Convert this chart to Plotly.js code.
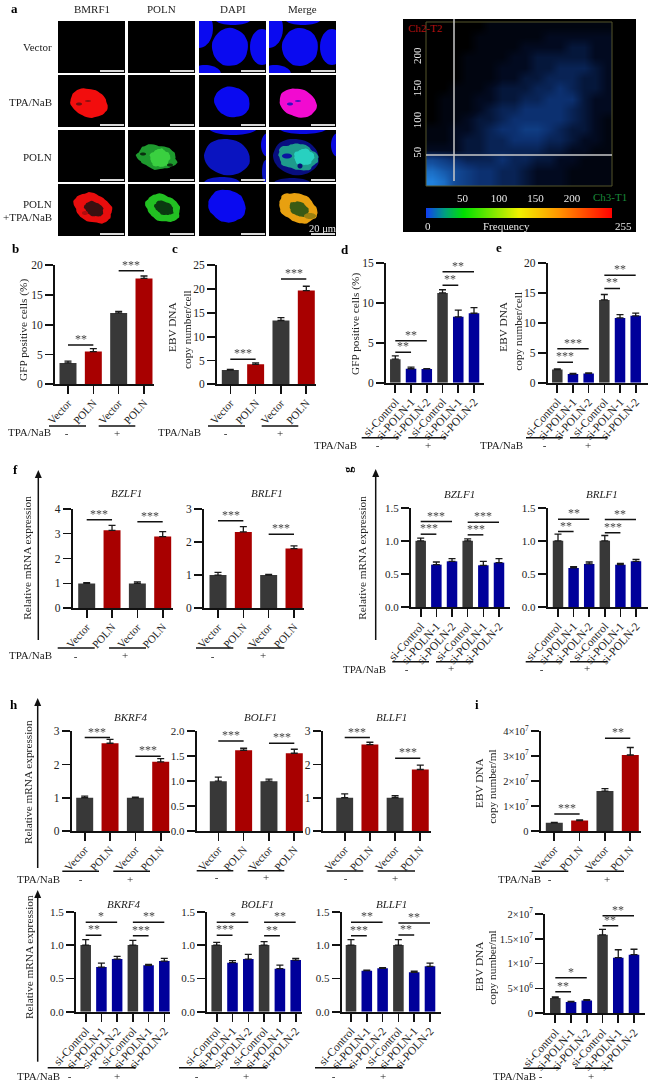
<!DOCTYPE html>
<html><head><meta charset="utf-8">
<script src="https://cdn.plot.ly/plotly-3.0.1.min.js"></script>
<style>html,body{margin:0;padding:0;background:#fff}#c{width:650px;height:1082px}
.xtick text,.ytick text,.annotation text:not([data-unformatted^="Ch"]){filter:grayscale(1)}</style>
</head><body><div id="c"></div>
<script>
// ---------- DATA ----------
const vecLabels=['Vector','POLN','Vector','POLN'];
const siLabels=['si-Control','si-POLN-1','si-POLN-2','si-Control','si-POLN-1','si-POLN-2'];
const colVec=['#383838','#a80000','#383838','#a80000'];
const colSi=['#383838','#00009a','#00009a','#383838','#00009a','#00009a'];

const bVals=[3.6,5.5,12,17.8],bErr=[.3,.5,.25,.4],bSig=[[0,1,6.6,'**'],[2,3,19.1,'***']];
const cVals=[3.0,4.2,13.4,19.7],cErr=[.15,.3,.6,.9],cSig=[[0,1,5.25,'***'],[2,3,22.1,'***']];
const dVals=[2.95,1.75,1.72,11.25,8.25,8.7],dErr=[.4,.2,.05,.4,.85,.7],dSig=[[0,1,3.81,'**'],[0,2,5.26,'**'],[3,4,12.2,'**'],[3,5,13.9,'**']];
const eVals=[2.2,1.45,1.55,13.8,10.8,11.15],eErr=[.1,.08,.1,.9,.55,.45],eSig=[[0,1,3.4,'***'],[0,2,5.67,'***'],[3,4,15.7,'**'],[3,5,17.9,'**']];
const fZVals=[1,3.13,1,2.88],fZErr=[.03,.2,.06,.2],fZSig=[[0,1,3.56,'***'],[2,3,3.48,'***']];
const fRVals=[1,2.3,1,1.8],fRErr=[.08,.16,.02,.08],fRSig=[[0,1,2.64,'***'],[2,3,2.23,'***']];
const gZVals=[1,.64,.69,1,.63,.67],gZErr=[.04,.04,.04,.03,.06,.06],gZSig=[[0,1,1.10,'***'],[0,2,1.29,'***'],[3,4,1.09,'***'],[3,5,1.28,'***']];
const gRVals=[1,.59,.65,1,.64,.69],gRErr=[.1,.02,.03,.08,.02,.03],gRSig=[[0,1,1.14,'**'],[0,2,1.325,'**'],[3,4,1.12,'***'],[3,5,1.32,'**']];
const hKVals=[1,2.64,1,2.08],hKErr=[.05,.12,.02,.1],hKSig=[[0,1,2.81,'***'],[2,3,2.25,'***']];
const hOVals=[1,1.62,1,1.56],hOErr=[.08,.04,.04,.08],hOSig=[[0,1,1.805,'***'],[2,3,1.76,'***']];
const hLVals=[1,2.6,1,1.85],hLErr=[.12,.07,.06,.13],hLSig=[[0,1,2.81,'***'],[2,3,2.19,'***']];
const h2KVals=[1,.67,.79,1,.695,.76],h2KErr=[.08,.06,.04,.07,.015,.04],h2KSig=[[0,1,1.145,'**'],[0,2,1.34,'*'],[3,4,1.14,'***'],[3,5,1.34,'**']];
const h2OVals=[1,.735,.79,1,.645,.775],h2OErr=[.04,.03,.07,.05,.055,.025],h2OSig=[[0,1,1.145,'***'],[0,2,1.34,'*'],[3,4,1.14,'**'],[3,5,1.34,'**']];
const h2LVals=[1,.615,.65,1,.59,.68],h2LErr=[.08,.01,.01,.08,.02,.05],h2LSig=[[0,1,1.14,'***'],[0,2,1.34,'**'],[3,4,1.15,'**'],[3,5,1.33,'**']];
const iVals=[3.3e6,4.2e6,1.6e7,3.05e7],iErr=[2e5,3e5,1e6,3e6],iSig=[[0,1,6.8e6,'***'],[2,3,3.72e7,'**']];
const i2Vals=[3.1e6,2.3e6,2.6e6,1.58e7,1.12e7,1.18e7],i2Err=[2e5,1e5,1.5e5,1.1e6,1.6e6,1.1e6],i2Sig=[[0,1,4.35e6,'**'],[0,2,7.17e6,'*'],[3,4,1.764e7,'**'],[3,5,1.966e7,'**']];

// colocalisation density, estimated by eye on a coarse grid (rows bottom to top)
const densX=[8,24,40,56,72,88,104,120,136,152,168,184,200,216,232,248];
const densY=[8,24,40,56,72,88,104,120,136,152,168,184,200,216,232,248];
const dens=[
[10,9,7,6,5,5,4,4,3,2,2,2,1,1,1,1],
[9,8,7,6,5,5,4,4,3,2,2,2,1,1,1,1],
[7,6,5,4,4,4,5,4,4,3,3,2,2,1,1,1],
[2,2,2,3,3,4,4,4,4,4,3,3,2,2,1,1],
[1,1,2,3,3,4,4,5,5,5,4,4,3,2,2,1],
[1,1,2,2,3,4,5,5,6,6,5,4,3,3,2,1],
[0,1,1,2,3,3,4,5,5,5,5,5,4,3,2,1],
[0,1,1,1,2,3,4,4,5,5,5,5,4,3,2,2],
[0,1,1,1,2,2,3,3,4,4,5,5,5,3,2,2],
[0,0,1,1,1,2,3,3,3,4,4,5,4,3,3,2],
[0,0,0,1,1,1,2,2,3,3,4,4,4,3,3,2],
[0,0,0,1,1,1,2,2,2,3,3,4,4,4,3,2],
[0,0,0,1,1,1,1,2,2,3,3,3,3,3,2,2],
[0,0,0,0,1,1,1,1,2,2,2,2,3,3,2,2],
[0,0,0,0,1,1,1,1,1,1,2,2,2,2,2,2],
[0,0,0,0,0,1,1,1,1,1,1,1,1,1,1,1]];
const freqScale=[0,32,64,96,128,160,192,224,255];

// ---------- HELPERS ----------
const W=650,H=1082,FONT='"Liberation Serif","Times New Roman",serif',INK='#222';
const px=x=>x/W,py=y=>1-y/H;
const data=[],shapes=[],annotations=[],layout={};
let axN=0,clip=[0,0,W,H];
function newAxes(){axN++;const s=axN>1?axN:'';return{xk:'xaxis'+s,yk:'yaxis'+s,x:'x'+s,y:'y'+s};}
function text(x,y,t,o={}){annotations.push({xref:'paper',yref:'paper',x:px(x),y:py(y),text:t,showarrow:false,
  xanchor:o.anchor||'center',yanchor:'middle',textangle:o.angle||0,borderpad:0,
  font:{family:FONT,size:o.size||11,color:o.color||INK}});}
function line(x0,y0,x1,y1,c,w){shapes.push({type:'line',xref:'paper',yref:'paper',x0:px(x0),y0:py(y0),x1:px(x1),y1:py(y1),line:{color:c||'#111',width:w||1.5}});}
function rect(x0,y0,x1,y1,c,layer){shapes.push({type:'rect',xref:'paper',yref:'paper',x0:px(x0),y0:py(y0),x1:px(x1),y1:py(y1),fillcolor:c,line:{width:0},layer:layer||'below'});}
function ell(cx,cy,rx,ry,rot,c,w){const n=48,r=(rot||0)*Math.PI/180,b=w||0;let p='';
  for(let k=0;k<n;k++){const a=k/n*2*Math.PI,m=1+b*(Math.sin(5*a+cx)+.6*Math.sin(9*a+cy)+.4*Math.sin(17*a));
    const u=rx*m*Math.cos(a),v=ry*m*Math.sin(a);
    let X=cx+u*Math.cos(r)-v*Math.sin(r),Y=cy+u*Math.sin(r)+v*Math.cos(r);
    X=Math.min(clip[2],Math.max(clip[0],X));Y=Math.min(clip[3],Math.max(clip[1],Y));
    p+=(k?'L':'M')+px(X).toFixed(5)+','+py(Y).toFixed(5);}
  shapes.push({type:'path',xref:'paper',yref:'paper',path:p+'Z',fillcolor:c,line:{width:0},layer:'below'});}
function arrow(x,top,bottom){line(x,top+6,x,bottom,'#111',1.5);
  const p=`M${px(x)},${py(top)}L${px(x-3.5)},${py(top+8)}L${px(x+3.5)},${py(top+8)}Z`;
  shapes.push({type:'path',xref:'paper',yref:'paper',path:p,fillcolor:'#111',line:{width:0}});}

function panel(o){
  const a=newAxes(),n=o.vals.length,c0=o.centers[0],sp=(o.centers[n-1]-c0)/(n-1),zero=o.vals.map(()=>0);
  data.push({type:'bar',x:o.vals.map((_,i)=>i),y:o.vals,xaxis:a.x,yaxis:a.y,marker:{color:o.colors,line:{width:0}},hoverinfo:'skip',
    error_y:{type:'data',symmetric:false,array:o.err,arrayminus:zero,color:'#1a1a1a',thickness:1.3,width:3.5}});
  const base={showgrid:false,zeroline:false,showline:true,linecolor:'#111',linewidth:2,ticks:'outside',ticklen:8,tickwidth:1.6,tickcolor:'#111'};
  layout[a.xk]=Object.assign({},base,{anchor:a.y,domain:[px(o.l),px(o.r)],range:[(o.l-c0)/sp,(o.r-c0)/sp],
    tickmode:'array',tickvals:o.vals.map((_,i)=>i),ticktext:o.labels,tickangle:-48,ticklabelstandoff:-2,
    tickfont:{family:FONT,size:n==6?11.5:11,color:INK}});
  layout[a.yk]=Object.assign({},base,{anchor:a.x,domain:[py(o.y0),py(o.yt)],range:[0,o.max],
    tickmode:'array',tickvals:o.ticks,ticktext:o.tickText||o.ticks.map(String),tickfont:{family:FONT,size:o.ySize||(o.tickText?11:11.5),color:INK}});
  o.sig.forEach(s=>{
    shapes.push({type:'line',xref:a.x,yref:a.y,x0:s[0],x1:s[1],y0:s[2],y1:s[2],line:{color:'#111',width:1.5}});
    annotations.push({xref:a.x,yref:a.y,x:(s[0]+s[1])/2,y:s[2],text:s[3],showarrow:false,xanchor:'center',yanchor:'bottom',yshift:-2,borderpad:0,
      font:{family:FONT,size:12,color:'#444'}});
  });
  if(o.title)text(o.title[0],o.title[1],'<i>'+o.title[2]+'</i>',{size:11});
  (o.under||[]).forEach(u=>line(u[0],o.underY,u[1],o.underY,'#111',1.4));
  if(o.minus)text(o.minus[0],o.minus[1],'\u00a0-\u00a0');
  if(o.plus)text(o.plus[0],o.plus[1],'+');
  if(o.tpa)text(o.tpa[0],o.tpa[1],'TPA/NaB',{anchor:'right'});
}
const f=(a,b)=>a+'×10<sup>'+b+'</sup>';
const yt=(t,x,y)=>text(x,y,t,{angle:-90,size:11.3});

// ---------- PANEL a : images ----------
const cols=[[58,125],[128,195],[199,266],[269,336]],rows=[[21,73],[75,127],[130,182],[184,236]];
cols.forEach(c=>rows.forEach(r=>rect(c[0],r[0],c[1],r[1],'#000')));
function cell(ci,ri){clip=[cols[ci][0],rows[ri][0],cols[ci][1],rows[ri][1]];}
// row 1
[[2,0],[3,70]].forEach(o=>{cell(o[0],0);const d=o[1],c='#0a0af0';
  ell(230+d,47,18,19,0,c,.01);ell(199+d,28,14,20,0,c);ell(262+d,47,12,18,0,c);ell(233+d,19,18,6,0,c);ell(205+d,74,16,9,0,c);});
// row 2
cell(0,1);ell(89,103,19,14,18,'#f20d0d',.02);ell(79,104,3,1.5,0,'#701010');ell(88,101,3,1,0,'#901010');
cell(2,1);ell(232,102,18,15,18,'#0a0af0',.012);
cell(3,1);ell(298,103,19,14,18,'#f20ad0',.015);ell(290,104,3,1.5,0,'#3010c0');ell(298,101,3,1,0,'#5010c0');
// row 3
cell(1,2);ell(157,157,20,12,10,'#1e9a2e',.05);ell(160,158,10,9,0,'#3ad040',.06);ell(143,154,3,1.5,0,'#0a300f');ell(170,165,3,1.5,0,'#0a300f');
cell(2,2);{const c='#0a14c0';ell(227,157,23,18,10,c,.01);ell(233,128,24,7,0,'#0a0ae0');ell(268,145,7,12,0,'#0a0ae0');ell(266,172,4,12,0,c);ell(222,183,18,6,0,c);}
cell(3,2);{const c='#080e80';ell(296,157,23,18,10,c,.01);ell(303,128,24,6,0,'#0a0ae0');ell(338,145,7,12,0,'#0a0ae0');ell(292,183,18,5,0,c);}
ell(298,157,20,13,10,'#1e9a8c',.05);ell(304,157,10,8,0,'#28d0c0',.06);ell(287,156,5,2.5,0,'#0a14a0');ell(300,166,2.5,2.5,0,'#08107a');
// row 4
cell(0,3);ell(93,208,20,14,25,'#e80d0d',.035);ell(94,209,10,7,25,'#3a1010',.05);ell(85,213,3,2,0,'#b00d0d');
cell(1,3);ell(163,208,18,13,25,'#22c022',.035);ell(164,208,10,6.5,25,'#0a3a10',.05);
cell(2,3);ell(227,206,19,16,20,'#0a0af0',.02);
cell(3,3);ell(298,208,20,14,25,'#e8a010',.035);ell(299,209,10,7,25,'#3a5a14',.05);ell(310,216,6,3,0,'#9a8010');
cols.forEach(c=>rows.forEach(r=>rect(c[1]-25,r[1]-3,c[1]-1,r[1]-1,'#d8d8d8')));
text(14,9,'<b>a</b>',{size:13,color:'#000'});
[['BMRF1',92],['POLN',161],['DAPI',233],['Merge',302]].forEach(t=>text(t[1],9,t[0],{size:11}));
text(53,47,'Vector',{anchor:'right'});text(53,102,'TPA/NaB',{anchor:'right'});text(53,157,'POLN',{anchor:'right'});
text(53,204,'POLN',{anchor:'right'});text(53,217,'+TPA/NaB',{anchor:'right'});
text(337,228,'20 μm',{anchor:'right',color:'#e8e8e8',size:10.5});

// ---------- PANEL a : colocalisation scatter ----------
rect(403,19,636,232,'#000');
{const a=newAxes();
 data.push({type:'heatmap',x:densX,y:densY,z:dens,xaxis:a.x,yaxis:a.y,zmin:0,zmax:10,zsmooth:'best',showscale:false,hoverinfo:'skip',
  colorscale:[[0,'#000000'],[.2,'#020a20'],[.5,'#0c3070'],[.75,'#14509f'],[1,'#2080dc']]});
 layout[a.xk]={anchor:a.y,domain:[px(426),px(612)],range:[0,255],showgrid:false,zeroline:false,tickmode:'array',tickvals:[50,100,150,200],ticks:'',
  tickfont:{family:FONT,size:11,color:'#e8e8e8'},ticklabelstandoff:4};
 layout[a.yk]={anchor:a.x,domain:[py(186),py(22)],range:[0,255],showgrid:false,zeroline:false,tickmode:'array',tickvals:[50,100,150,200],ticks:'',tickangle:-90,
  tickfont:{family:FONT,size:11,color:'#e8e8e8'},ticklabelstandoff:2};
}
{const a=newAxes();
 data.push({type:'heatmap',x:freqScale,y:[0,1],z:[freqScale,freqScale],xaxis:a.x,yaxis:a.y,zmin:0,zmax:255,zsmooth:'best',showscale:false,hoverinfo:'skip',
  colorscale:[[0,'#1040f0'],[.1,'#00a080'],[.2,'#00e000'],[.5,'#f0f000'],[.72,'#ff9000'],[1,'#ff0000']]});
 layout[a.xk]={anchor:a.y,domain:[px(426),px(612)],range:[0,255],visible:false};
 layout[a.yk]={anchor:a.x,domain:[py(218),py(208)],range:[0,1],visible:false};
}
shapes.push({type:'rect',xref:'paper',yref:'paper',x0:px(426),y0:py(186),x1:px(612),y1:py(22),line:{color:'#55552a',width:1}});
line(454,19,454,181,'#c8c8c8',1.5);line(426,155,612,155,'#c8c8c8',1.5);
text(425,28,'Ch2-T2',{size:11,color:'#b01010'});text(610,197,'Ch3-T1',{size:11,color:'#1a8a3a'});
text(428,226,'0',{color:'#e8e8e8'});text(506,226,'Frequency',{color:'#e8e8e8'});text(623,226,'255',{color:'#e8e8e8'});

// ---------- BAR PANELS ----------
text(15,248,'<b>b</b>',{size:13,color:'#000'});
panel({vals:bVals,err:bErr,sig:bSig,colors:colVec,labels:vecLabels,l:55,r:154,centers:[68,93.3,118.7,144],y0:384.3,yt:265.3,max:20,ticks:[0,5,10,15,20],
 under:[[49,86],[98.7,135.3]],underY:426,minus:[66.7,433],plus:[117,432.5],tpa:[52,432]});
yt('GFP positive cells (%)',23,330);

text(175,248,'<b>c</b>',{size:13,color:'#000'});
panel({vals:cVals,err:cErr,sig:cSig,colors:colVec,labels:vecLabels,l:217,r:316,centers:[230.3,255.7,281,306.3],y0:384.3,yt:265.3,max:25,ticks:[0,5,10,15,20,25],
 under:[[208,245],[261.7,298.3]],underY:426,minus:[225,433],plus:[280,432.5],tpa:[202,432]});
yt('EBV DNA',172,327);yt('copy number/cell',187,330);

text(345,249,'<b>d</b>',{size:13,color:'#000'});
panel({vals:dVals,err:dErr,sig:dSig,colors:colSi,labels:siLabels,l:386,r:484,centers:[395.3,411,426.7,442.3,458,474],y0:382.7,yt:263,max:15,ticks:[0,5,10,15],
 under:[[361.7,398.3],[408.3,445.7]],underY:437.7,minus:[377.7,445],plus:[427.7,444.7],tpa:[358,445]});
yt('GFP positive cells (%)',355,324);

text(499,247,'<b>e</b>',{size:13,color:'#000'});
panel({vals:eVals,err:eErr,sig:eSig,colors:colSi,labels:siLabels,l:547.7,r:647.7,centers:[557.3,573,588.7,604.3,620,635.7],y0:382.7,yt:262.7,max:20,ticks:[0,5,10,15,20],
 under:[[526,562.7],[570,607.3]],underY:437.7,minus:[544,445],plus:[588.3,444.7],tpa:[524.3,445]});
yt('EBV DNA',502.7,326);yt('copy number/cell',517.7,331);

text(15,469,'<b>f</b>',{size:13,color:'#000'});
arrow(38.3,470,640);yt('Relative mRNA expression',26.7,558);
panel({vals:fZVals,err:fZErr,sig:fZSig,colors:colVec,labels:vecLabels,l:72.7,r:173,centers:[86.7,112,137.3,162.7],y0:608.3,yt:508.7,max:4,ticks:[0,1,2,3,4],title:[126.7,493,'BZLF1'],
 under:[[57.7,94.7],[109,146]],underY:648,minus:[75,656],plus:[125,655],tpa:[52.7,655]});
panel({vals:fRVals,err:fRErr,sig:fRSig,colors:colVec,labels:vecLabels,l:204,r:304,centers:[218,243.7,268.7,294],y0:608.3,yt:508.7,max:3,ticks:[0,1,2,3],title:[267,493,'BRLF1'],
 under:[[196,233.3],[247.3,284.3]],underY:648,minus:[212.7,656],plus:[262.7,655]});

annotations.push({xref:'paper',yref:'paper',x:px(347.7),y:py(470),text:'<b>g</b>',showarrow:false,textangle:-90,font:{family:FONT,size:12,color:'#000'}});
arrow(375.7,469,640);yt('Relative mRNA expression',361.7,558);
panel({vals:gZVals,err:gZErr,sig:gZSig,colors:colSi,labels:siLabels,l:411,r:510,centers:[420.7,436.3,451.7,467.7,483.3,499],y0:607,yt:507.7,max:1.5,ticks:[0,.5,1,1.5],tickText:['0.0','0.5','1.0','1.5'],title:[459,494,'BZLF1'],
 under:[[392.3,429],[436,473.3]],underY:661.7,minus:[406,669],plus:[450.7,668],tpa:[387.3,669]});
panel({vals:gRVals,err:gRErr,sig:gRSig,colors:colSi,labels:siLabels,l:547.7,r:647.7,centers:[558,573.3,589,604.7,620.3,636],y0:607,yt:507.7,max:1.5,ticks:[0,.5,1,1.5],tickText:['0.0','0.5','1.0','1.5'],title:[601.7,494,'BRLF1'],
 under:[[525.7,562.3],[570,607.3]],underY:661.7,minus:[541.7,669],plus:[586.7,668]});

text(14,704,'<b>h</b>',{size:13,color:'#000'});
arrow(37.7,698,868);yt('Relative mRNA expression',27.3,781.7);
panel({vals:hKVals,err:hKErr,sig:hKSig,colors:colVec,labels:vecLabels,l:71.7,r:170,centers:[84.7,110,135.7,160.7],y0:831,yt:731.3,max:3,ticks:[0,1,2,3],title:[130,717,'BKRF4'],
 under:[[62.3,99],[113.3,150]],underY:871.3,minus:[80,879.3],plus:[130,879],tpa:[61,879]});
panel({vals:hOVals,err:hOErr,sig:hOSig,colors:colVec,labels:vecLabels,l:196.7,r:303.3,centers:[218.3,243.7,269,294.3],y0:831,yt:731.3,max:2,ticks:[0,.5,1,1.5,2],tickText:['0.0','0.5','1.0','1.5','2.0'],title:[260.7,716.7,'BOLF1'],
 under:[[196.7,233.3],[247.7,284.3]],underY:870.7,minus:[216,877.3],plus:[265.7,877]});
panel({vals:hLVals,err:hLErr,sig:hLSig,colors:colVec,labels:vecLabels,l:322.7,r:430.7,centers:[344.7,370,395,420.3],y0:831,yt:731.3,max:3,ticks:[0,1,2,3],title:[391.7,717,'BLLF1'],
 under:[[326.7,363.3],[377.7,415]],underY:871,minus:[345,877.7],plus:[395,877.5]});

arrow(37.7,890,1061.7);yt('Relative mRNA expression',28.3,956.7);
panel({vals:h2KVals,err:h2KErr,sig:h2KSig,colors:colSi,labels:siLabels,l:76,r:170,centers:[85.7,101.7,117.3,133,148.7,164.3],y0:1011.7,yt:911.7,max:1.5,ticks:[0,.5,1,1.5],tickText:['0.0','0.5','1.0','1.5'],title:[123.3,903.7,'BKRF4'],
 under:[[47.7,85],[98.7,135.7]],underY:1067.7,minus:[69.3,1076.3],plus:[116.7,1076],tpa:[61,1076]});
panel({vals:h2OVals,err:h2OErr,sig:h2OSig,colors:colSi,labels:siLabels,l:207.3,r:301.7,centers:[216.7,232.3,248.3,264,280,295.7],y0:1011.7,yt:911.7,max:1.5,ticks:[0,.5,1,1.5],tickText:['0.0','0.5','1.0','1.5'],title:[257.3,903.7,'BOLF1'],
 under:[[179,215.7],[230,266.7]],underY:1067.7,minus:[196.7,1076],plus:[246,1075.7]});
panel({vals:h2LVals,err:h2LErr,sig:h2LSig,colors:colSi,labels:siLabels,l:341.7,r:440.7,centers:[351,367,382.7,398.3,414,430],y0:1011.7,yt:911.7,max:1.5,ticks:[0,.5,1,1.5],tickText:['0.0','0.5','1.0','1.5'],title:[391.7,904,'BLLF1'],
 under:[[315,352.3],[366,402.7]],underY:1067.7,minus:[333.3,1076],plus:[383.3,1075.7]});

text(476.7,704,'<b>i</b>',{size:13,color:'#000'});
panel({vals:iVals,err:iErr,sig:iSig,colors:colVec,labels:vecLabels,l:540.7,r:640.7,centers:[554.3,580,605.3,630.3],y0:831,yt:731.3,max:4e7,ticks:[0,1e7,2e7,3e7,4e7],tickText:['0',f(1,7),f(2,7),f(3,7),f(4,7)],ySize:10.5,
 under:[[531.7,568.3],[586.7,624]],underY:871.3,minus:[549.3,879],plus:[606.7,879],tpa:[541.7,879]});
yt('EBV DNA',478.3,782.7);yt('copy number/ml',491.7,787);
panel({vals:i2Vals,err:i2Err,sig:i2Sig,colors:colSi,labels:siLabels,l:545,r:645.3,centers:[555.3,571.3,587,602.7,618.3,634],y0:1013.3,yt:914,max:2e7,ticks:[0,5e6,1e7,1.5e7,2e7],tickText:['0',f(5,6),f(1,7),f(1.5,7),f(2,7)],ySize:10.5,
 under:[[523.3,560.7],[575,612.3]],underY:1068.3,minus:[540,1075.7],plus:[590.7,1075.5],tpa:[537.3,1075.7]});
yt('EBV DNA',479.3,966);yt('copy number/ml',491.7,968);

Object.assign(layout,{width:W,height:H,margin:{l:0,r:0,t:0,b:0},paper_bgcolor:'#fff',plot_bgcolor:'rgba(0,0,0,0)',showlegend:false,
  bargap:.33,hovermode:false,shapes,annotations,font:{family:FONT,color:INK}});
Plotly.newPlot('c',data,layout,{staticPlot:true,displayModeBar:false});
</script></body></html>
